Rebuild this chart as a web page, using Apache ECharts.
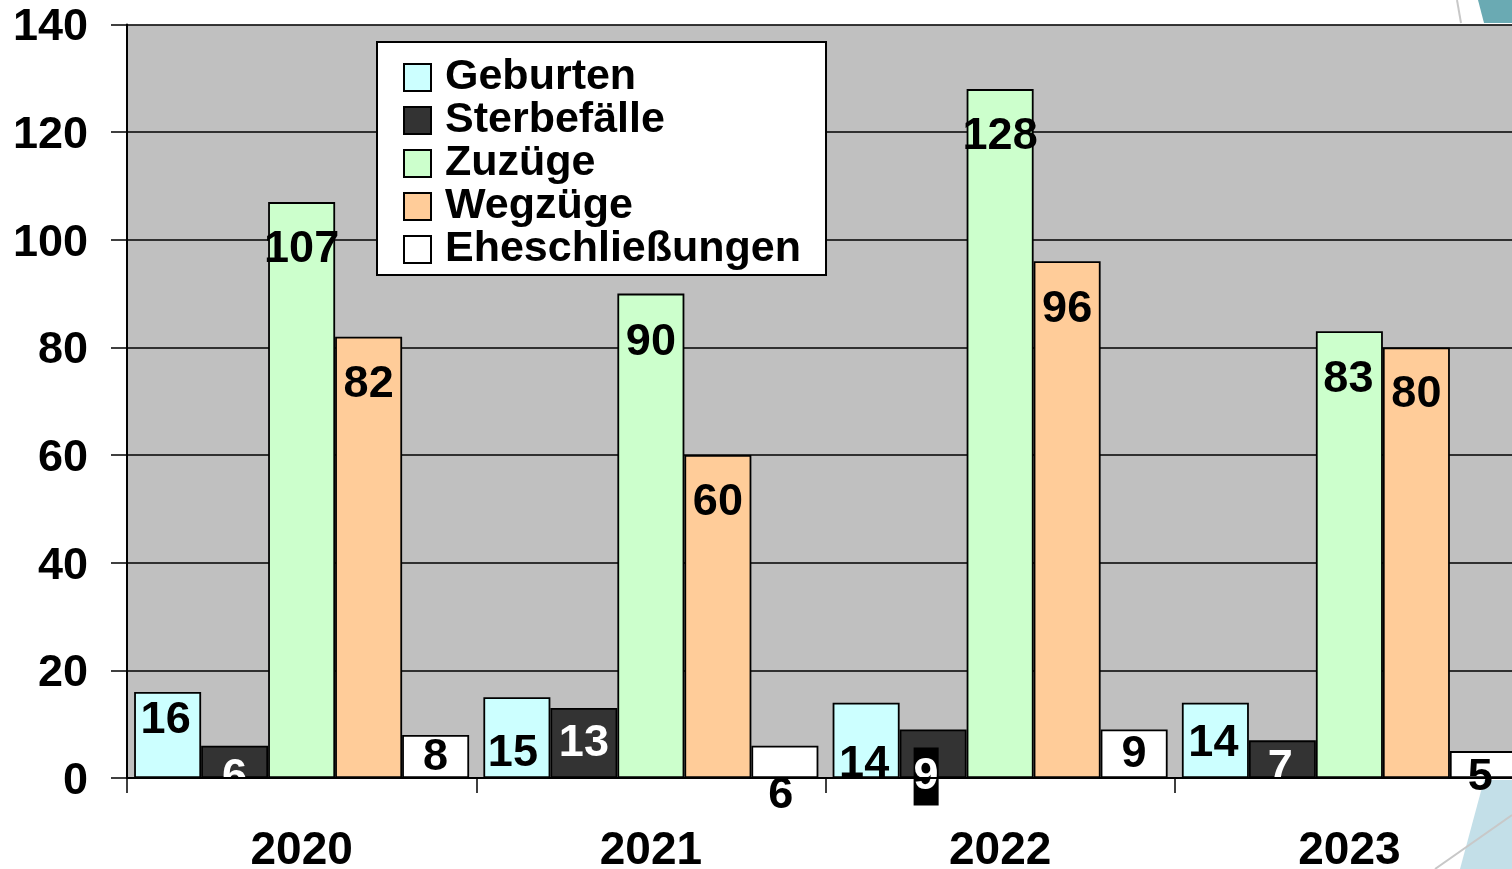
<!DOCTYPE html>
<html>
<head>
<meta charset="utf-8">
<script src="https://cdn.jsdelivr.net/npm/echarts@6/dist/echarts.min.js"></script>
<style>
html,body{margin:0;padding:0;background:#fff;}
#chart{width:1512px;height:869px;}
</style>
</head>
<body>
<div id="chart"></div>
<script>
const categories = ['2020', '2021', '2022', '2023'];
const seriesNames = ['Geburten', 'Sterbefälle', 'Zuzüge', 'Wegzüge', 'Eheschließungen'];
const geburten = [16, 15, 14, 14];
const sterbefaelle = [6, 13, 9, 7];
const zuzuege = [107, 90, 128, 83];
const wegzuege = [82, 60, 96, 80];
const eheschliessungen = [8, 6, 9, 5];
const yTicks = [0, 20, 40, 60, 80, 100, 120, 140];

// styling (not data)
const colors = ['#ccffff', '#333333', '#ccffcc', '#ffcc99', '#ffffff'];
const labelColors = ['#000', '#fff', '#000', '#000', '#000'];
// label centre distance below bar top (px), per series per category
const labelDrop = [
  [26, 53, 59, 38],
  [29, 33, 47, 25],
  [44, 46, 45, 45],
  [45, 45, 45, 44],
  [20, 47, 22, 24]
];
const labelDx = [
  [-2, -4, -2, -2],
  [0, 0, -7, -2],
  [0, 0, 0, -1],
  [0, 0, 0, 0],
  [0, -4, 0, -3]
];

const FONT = '"Liberation Sans", Arial, sans-serif';
const FS = 45;
const LH = 44;
const GLYPH_SHIFT = 3;

const allValues = [geburten, sterbefaelle, zuzuege, wegzuege, eheschliessungen];

const series = seriesNames.map((name, si) => ({
  name: name,
  type: 'bar',
  barWidth: 67,
  barGap: '0%',
  itemStyle: { color: colors[si], borderColor: '#000', borderWidth: 1.8 },
  data: allValues[si].map((v, ci) => {
    const boxed = (si === 1 && ci === 2);
    const boxH = boxed ? LH + 14 : LH;
    const item = {
      value: v,
      label: {
        show: true,
        position: 'insideTop',
        distance: 0,
        offset: [labelDx[si][ci], labelDrop[si][ci] - boxH / 2 + (boxed ? 0 : GLYPH_SHIFT)],
        color: labelColors[si],
        fontFamily: FONT,
        fontWeight: 'bold',
        fontSize: FS,
        lineHeight: LH
      }
    };
    if (boxed) {
      item.label.backgroundColor = '#000';
      item.label.padding = [7, 0, 7, 0];
    }
    return item;
  })
}));

const chart = echarts.init(document.getElementById('chart'), null, { renderer: 'canvas' });
chart.setOption({
  animation: false,
  backgroundColor: '#fff',
  grid: {
    left: 127, top: 24.5, right: -12, bottom: 91,
    outerBoundsMode: 'none',
    containLabel: false,
    show: true, backgroundColor: '#c0c0c0', borderWidth: 0
  },
  legend: {
    orient: 'vertical',
    left: 377, top: 42,
    padding: [14, 25, 4, 26],
    itemGap: 0,
    itemWidth: 27, itemHeight: 27,
    selectedMode: false,
    backgroundColor: '#fff',
    borderColor: '#000',
    borderWidth: 2,
    icon: 'rect',
    data: seriesNames,
    textStyle: {
      fontFamily: FONT, fontWeight: 'bold', fontSize: 43, lineHeight: 43,
      color: '#000', padding: [0, 0, 0, 9]
    }
  },
  xAxis: {
    type: 'category',
    data: categories,
    z: 3,
    axisLine: { show: true, lineStyle: { color: '#000', width: 2 } },
    axisTick: { show: true, length: 15, lineStyle: { color: '#000', width: 1.5 } },
    axisLabel: { fontFamily: FONT, fontWeight: 'bold', fontSize: 46, color: '#000', margin: 50 },
    splitLine: { show: false }
  },
  yAxis: {
    type: 'value',
    min: yTicks[0], max: yTicks[yTicks.length - 1], interval: 20,
    axisLine: { show: true, lineStyle: { color: '#000', width: 2 } },
    axisTick: { show: true, length: 16, lineStyle: { color: '#000', width: 1.5 } },
    axisLabel: {
      fontFamily: FONT, fontWeight: 'bold', fontSize: FS, color: '#000', margin: 39,
      formatter: function (v) { return '{s| }{v|' + v + '}'; },
      rich: {
        s: { fontSize: 10, lineHeight: 52, height: 52, verticalAlign: 'middle' },
        v: { fontFamily: FONT, fontWeight: 'bold', fontSize: FS, lineHeight: 45, color: '#000', verticalAlign: 'bottom' }
      }
    },
    splitLine: { show: true, lineStyle: { color: '#000', width: 1.5 } }
  },
  series: series,
  graphic: [
    { type: 'polygon', z: 100, shape: { points: [[1478, 0], [1512, 0], [1512, 23], [1484, 23]] }, style: { fill: '#6aaab3' } },
    { type: 'line', z: 100, shape: { x1: 1457, y1: 0, x2: 1461, y2: 23 }, style: { stroke: '#c8c8c8', lineWidth: 2 } },
    { type: 'polygon', z: -1, shape: { points: [[1484, 780], [1512, 780], [1512, 869], [1460, 869]] }, style: { fill: '#c3dfe8' } },
    { type: 'line', z: -1, shape: { x1: 1435, y1: 869, x2: 1512, y2: 815 }, style: { stroke: '#c8c8c8', lineWidth: 2 } }
  ]
});
</script>
</body>
</html>
